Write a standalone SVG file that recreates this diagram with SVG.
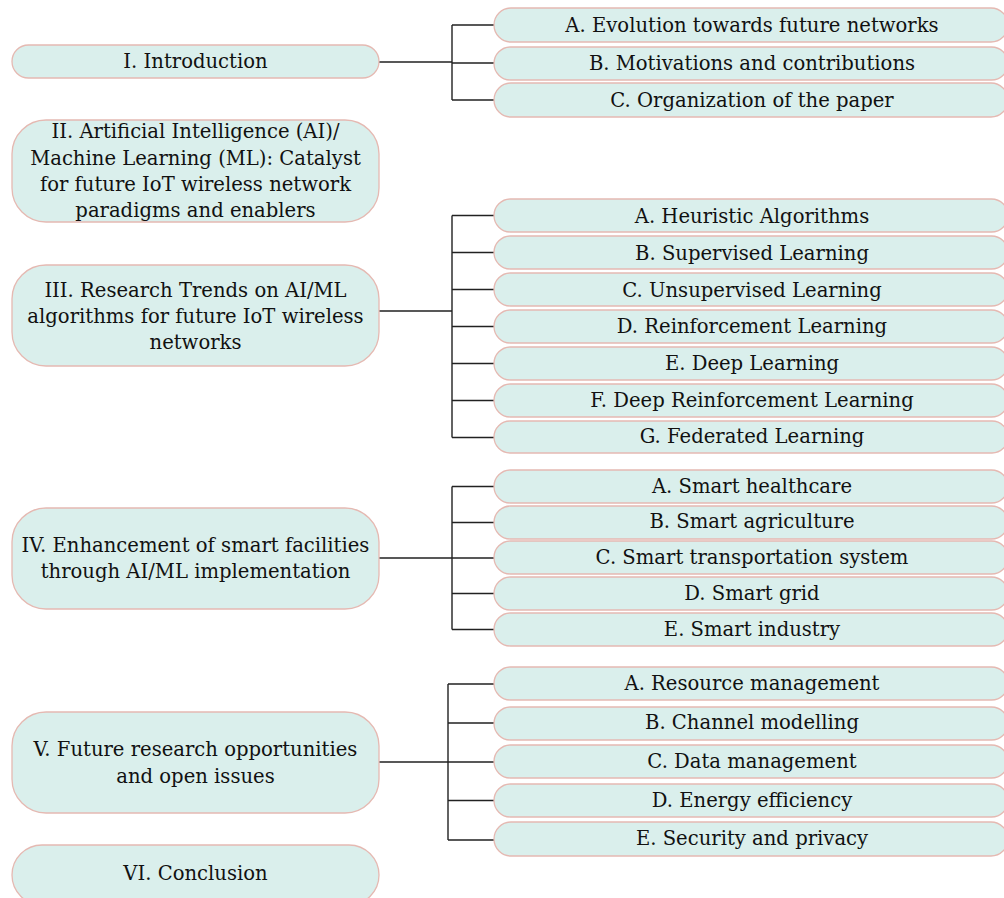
<svg xmlns="http://www.w3.org/2000/svg" width="1004" height="898" viewBox="0 0 1004 898">
<style>
.box{fill:#daefec;stroke:#e5b9b2;stroke-width:1.3}
.t{font-family:"DejaVu Serif","Liberation Serif",serif;font-size:19.6px;fill:#111;text-anchor:middle}
.c{fill:none;stroke:#222;stroke-width:1.4}
</style>
<rect width="1004" height="898" fill="#ffffff"/>
<g id="connectors">
<path class="c" d="M379 62H452M452 25V100M452 25H494M452 63H494M452 100H494"/>
<path class="c" d="M379 311H452M452 215.5V437.5M452 215.5H494M452 252.5H494M452 289.5H494M452 326.5H494M452 363.5H494M452 400.5H494M452 437.5H494"/>
<path class="c" d="M379 558H452M452 486.5V629.5M452 486.5H494M452 522.5H494M452 558H494M452 593.5H494M452 629.5H494"/>
<path class="c" d="M379 762H448M448 684V840M448 684H494M448 723H494M448 762H494M448 800.5H494M448 840H494"/>
</g>
<g id="n1"><rect class="box" x="12" y="45" width="367" height="33" rx="16.5"/><text class="t" x="195.5" y="68">I. Introduction</text></g>
<g id="n2"><rect class="box" x="12" y="120" width="367" height="102" rx="34"/><text class="t" x="195.5" y="138">II. Artificial Intelligence (AI)/</text><text class="t" x="195.5" y="165">Machine Learning (ML): Catalyst</text><text class="t" x="195.5" y="191">for future IoT wireless network</text><text class="t" x="195.5" y="217">paradigms and enablers</text></g>
<g id="n3"><rect class="box" x="12" y="265" width="367" height="101" rx="34"/><text class="t" x="195.5" y="297">III. Research Trends on AI/ML</text><text class="t" x="195.5" y="323">algorithms for future IoT wireless</text><text class="t" x="195.5" y="349">networks</text></g>
<g id="n4"><rect class="box" x="12" y="508" width="367" height="101" rx="34"/><text class="t" x="195.5" y="552">IV. Enhancement of smart facilities</text><text class="t" x="195.5" y="578">through AI/ML implementation</text></g>
<g id="n5"><rect class="box" x="12" y="712" width="367" height="101" rx="34"/><text class="t" x="195.5" y="756">V. Future research opportunities</text><text class="t" x="195.5" y="783">and open issues</text></g>
<g id="n6"><rect class="box" x="12" y="845" width="367" height="60" rx="30"/><text class="t" x="195.5" y="880">VI. Conclusion</text></g>

<g id="n1a"><rect class="box" x="494" y="8" width="514" height="34" rx="17"/><text class="t" x="752" y="32">A. Evolution towards future networks</text></g>
<g id="n1b"><rect class="box" x="494" y="47" width="514" height="33" rx="16.5"/><text class="t" x="752" y="70">B. Motivations and contributions</text></g>
<g id="n1c"><rect class="box" x="494" y="83" width="514" height="34" rx="17"/><text class="t" x="752" y="107">C. Organization of the paper</text></g>

<g id="n3a"><rect class="box" x="494" y="199" width="514" height="33" rx="16.5"/><text class="t" x="752" y="223">A. Heuristic Algorithms</text></g>
<g id="n3b"><rect class="box" x="494" y="236" width="514" height="33" rx="16.5"/><text class="t" x="752" y="260">B. Supervised Learning</text></g>
<g id="n3c"><rect class="box" x="494" y="273" width="514" height="33" rx="16.5"/><text class="t" x="752" y="297">C. Unsupervised Learning</text></g>
<g id="n3d"><rect class="box" x="494" y="310" width="514" height="33" rx="16.5"/><text class="t" x="752" y="333">D. Reinforcement Learning</text></g>
<g id="n3e"><rect class="box" x="494" y="347" width="514" height="33" rx="16.5"/><text class="t" x="752" y="370">E. Deep Learning</text></g>
<g id="n3f"><rect class="box" x="494" y="384" width="514" height="33" rx="16.5"/><text class="t" x="752" y="407">F. Deep Reinforcement Learning</text></g>
<g id="n3g"><rect class="box" x="494" y="421" width="514" height="32" rx="16"/><text class="t" x="752" y="443">G. Federated Learning</text></g>

<g id="n4a"><rect class="box" x="494" y="470" width="514" height="33" rx="16.5"/><text class="t" x="752" y="493">A. Smart healthcare</text></g>
<g id="n4b"><rect class="box" x="494" y="506" width="514" height="33" rx="16.5"/><text class="t" x="752" y="528">B. Smart agriculture</text></g>
<g id="n4c"><rect class="box" x="494" y="541" width="514" height="33" rx="16.5"/><text class="t" x="752" y="564">C. Smart transportation system</text></g>
<g id="n4d"><rect class="box" x="494" y="577" width="514" height="33" rx="16.5"/><text class="t" x="752" y="600">D. Smart grid</text></g>
<g id="n4e"><rect class="box" x="494" y="613" width="514" height="33" rx="16.5"/><text class="t" x="752" y="636">E. Smart industry</text></g>

<g id="n5a"><rect class="box" x="494" y="667" width="514" height="33" rx="16.5"/><text class="t" x="752" y="690">A. Resource management</text></g>
<g id="n5b"><rect class="box" x="494" y="707" width="514" height="33" rx="16.5"/><text class="t" x="752" y="729">B. Channel modelling</text></g>
<g id="n5c"><rect class="box" x="494" y="745" width="514" height="33" rx="16.5"/><text class="t" x="752" y="768">C. Data management</text></g>
<g id="n5d"><rect class="box" x="494" y="784" width="514" height="33" rx="16.5"/><text class="t" x="752" y="807">D. Energy efficiency</text></g>
<g id="n5e"><rect class="box" x="494" y="822" width="514" height="34" rx="17"/><text class="t" x="752" y="845">E. Security and privacy</text></g>
</svg>
